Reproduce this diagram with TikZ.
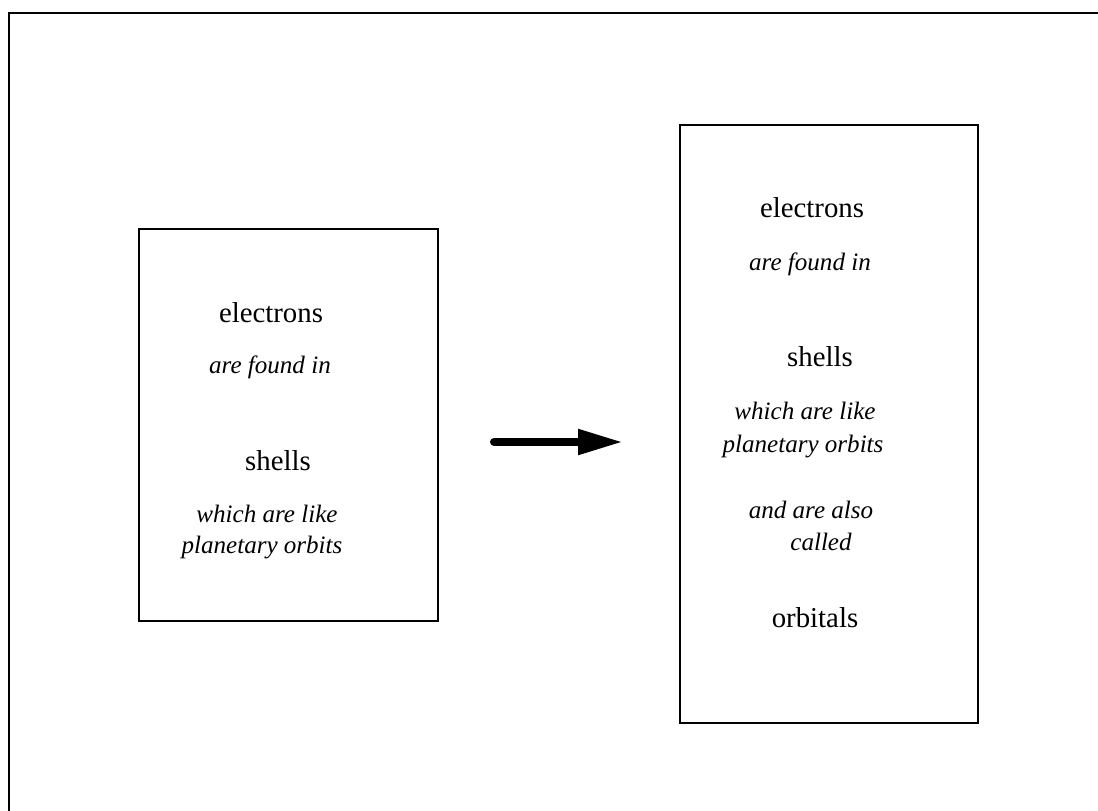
\documentclass[tikz,border=0pt]{standalone}
\usepackage{fontspec}
\setmainfont{Liberation Serif}
\usetikzlibrary{arrows.meta}
\begin{document}
\begin{tikzpicture}[x=0.75pt,y=-0.75pt,
  box/.style={draw=black,line width=1.2pt},
  word/.style={anchor=base,inner sep=0pt,font=\fontsize{21.6}{26}\selectfont},
  link/.style={anchor=base,inner sep=0pt,font=\fontsize{18.8}{24}\selectfont\itshape}]
\useasboundingbox (0,0) rectangle (1098,810);
\fill[white] (0,0) rectangle (1098,810);
\draw[line width=1.6pt] (9,820) -- (9,13) -- (1110,13);
% left box
\draw[box] (139,229) rectangle (438,621);
\node[word] (l1) at (271,322) {electrons};
\node[link] (l2) at (270,373) {are found in};
\node[word] (l3) at (278,470) {shells};
\node[link] (l4) at (267,522) {which are like};
\node[link] (l5) at (262,553) {planetary orbits};
% right box
\draw[box] (680,125) rectangle (978,723);
\node[word] (r1) at (812,217) {electrons};
\node[link] (r2) at (810,270) {are found in};
\node[word] (r3) at (820,366) {shells};
\node[link] (r4) at (805,419) {which are like};
\node[link] (r5) at (803,452) {planetary orbits};
\node[link] (r6) at (811,518) {and are also};
\node[link] (r7) at (821,550) {called};
\node[word] (r8) at (815,627) {orbitals};
% arrow
\coordinate (a1) at (494,442);
\coordinate (a2) at (623,442);
\draw[line width=6pt,line cap=round,-{Triangle[length=33.75pt,width=18pt]}] (a1) -- (a2);
\end{tikzpicture}
\end{document}
